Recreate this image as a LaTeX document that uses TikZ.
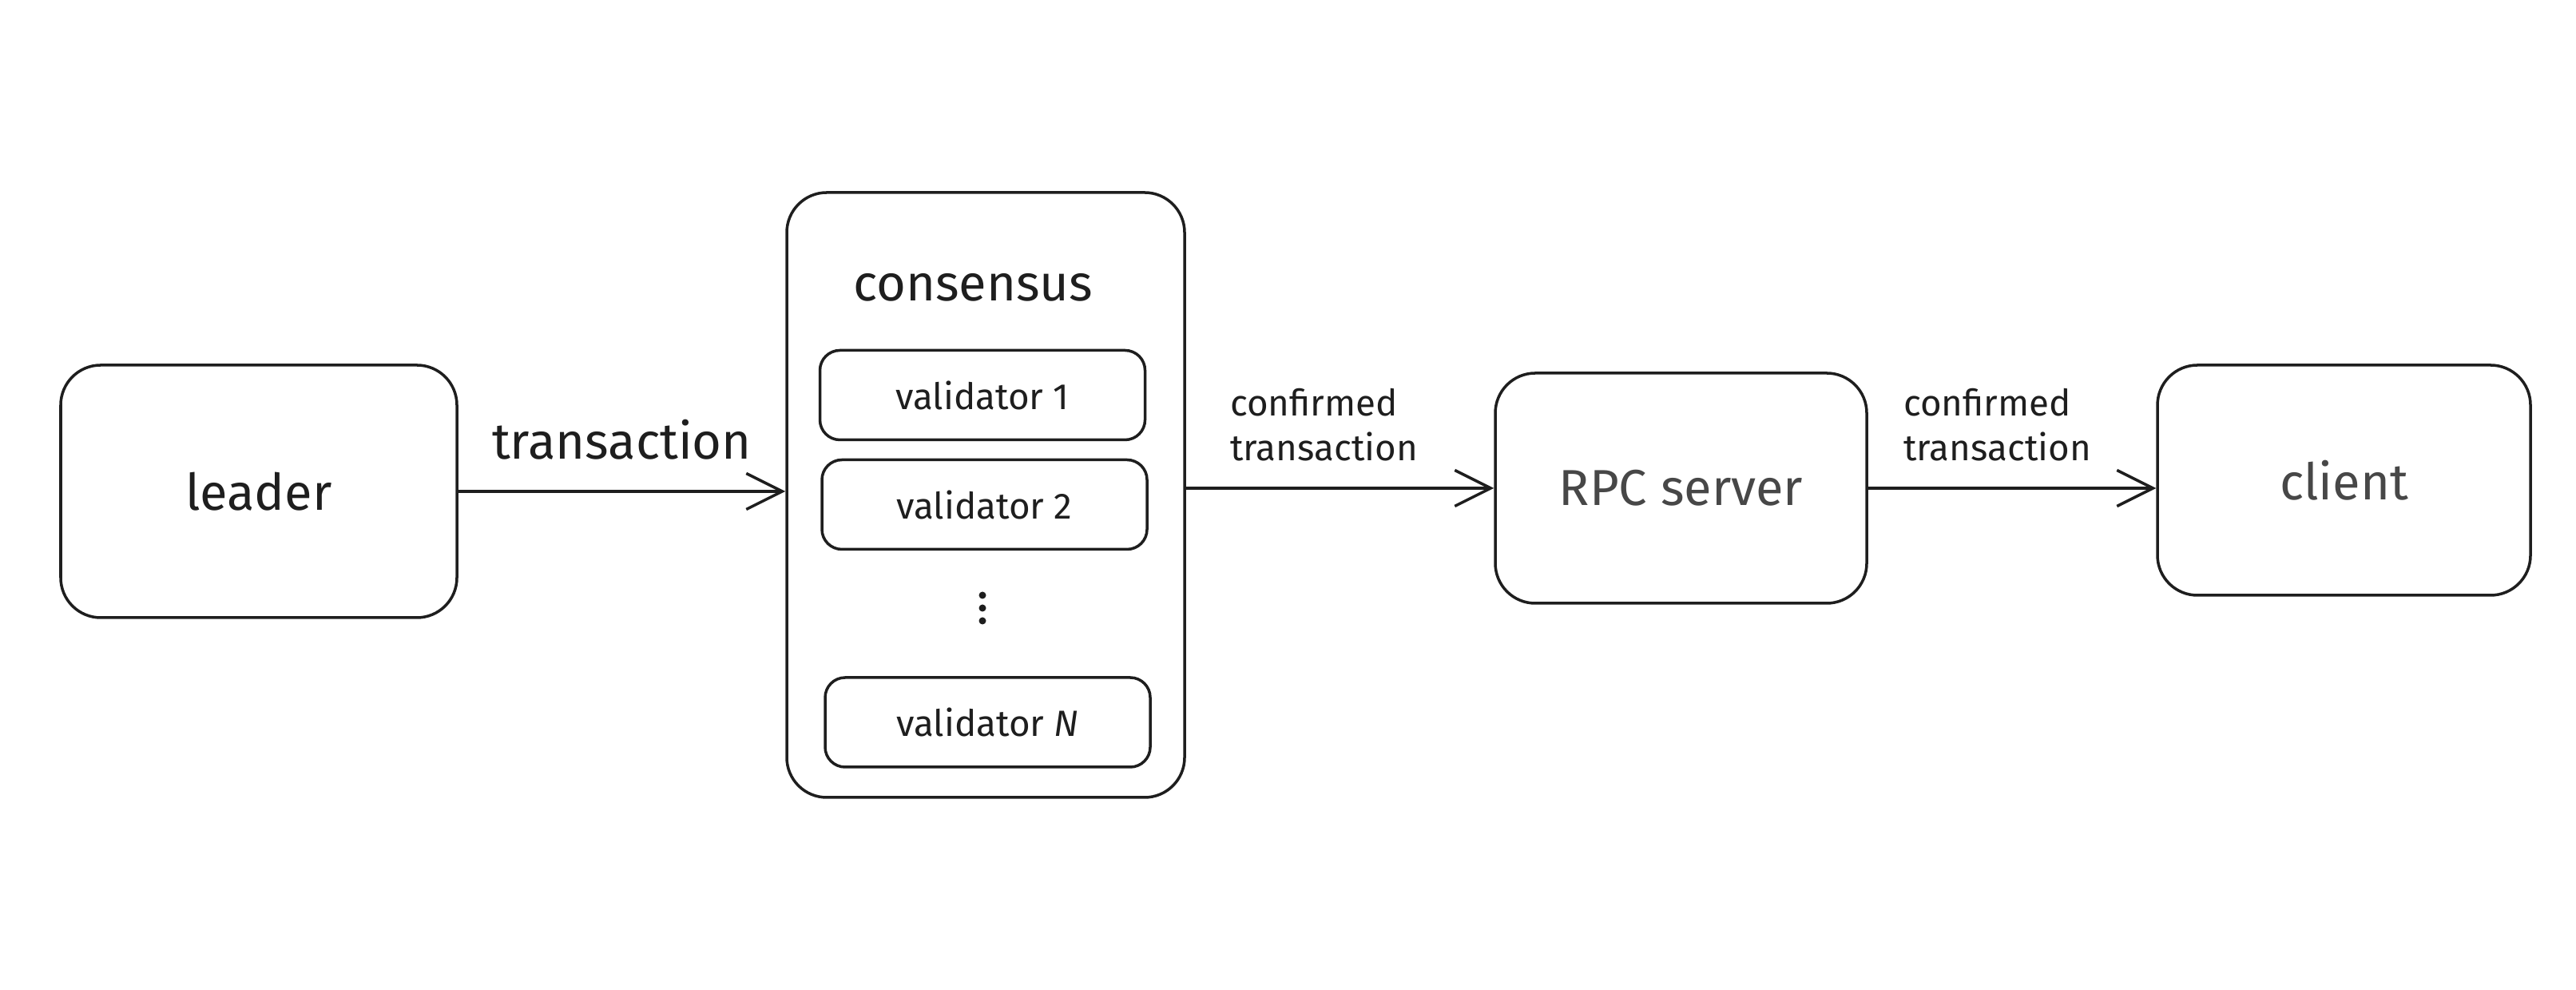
\documentclass[tikz,border=0pt]{standalone}
\usepackage{fontspec}
\setmainfont{Fira Sans}
\usetikzlibrary{arrows.meta}
\definecolor{ink}{HTML}{1E1E1E}
\definecolor{softink}{HTML}{474747}

\begin{document}
\begin{tikzpicture}[
    block/.style={draw=ink, line width=1pt, rounded corners=5mm, text=ink},
    member/.style={draw=ink, line width=1pt, rounded corners=2.5mm, text=ink,
      minimum width=4.07cm, minimum height=1.12cm, font=\fontsize{13}{16}\selectfont},
    flow/.style={draw=ink, line width=1pt, -{Straight Barb[length=4.5mm,width=4.5mm]}},
    big/.style={font=\fontsize{18}{22}\selectfont},
    small/.style={font=\fontsize{13}{16}\selectfont, align=left, text=ink}
  ]
  \useasboundingbox (0,0) rectangle (32.25,12.39);

  \node[block, big, minimum width=4.96cm, minimum height=3.16cm] (leader) at (3.24,6.24) {leader};

  \node[block, minimum width=4.98cm, minimum height=7.57cm] (consensus) at (12.34,6.195) {};
  \node[big, text=ink] (consensustitle) at (12.18,8.79) {consensus};
  \node[member] (val1) at (12.30,7.445) {validator 1};
  \node[member] (val2) at (12.325,6.075) {validator 2};
  \foreach \y in {4.94,4.78,4.62}
    \fill[ink] (12.30,\y) circle (0.45mm);
  \node[member] (valN) at (12.365,3.35) {validator \textit{N}};

  \node[block, big, text=softink, minimum width=4.65cm, minimum height=2.88cm] (rpc) at (21.045,6.28) {RPC server};
  \node[block, big, text=softink, minimum width=4.67cm, minimum height=2.88cm] (client) at (29.345,6.38) {client};

  \draw[flow] (leader.east) -- (leader.east -| consensus.west)
    node[midway, above=2.6mm, big, text=ink] {transaction};
  \draw[flow] (consensus.east |- rpc) -- (rpc.west)
    node[at start, small, anchor=south west, xshift=4.2mm, yshift=2mm] {confirmed\\transaction};
  \draw[flow] (rpc.east) -- (rpc.east -| client.west)
    node[at start, small, anchor=south west, xshift=3.1mm, yshift=2mm] {confirmed\\transaction};
\end{tikzpicture}
\end{document}
